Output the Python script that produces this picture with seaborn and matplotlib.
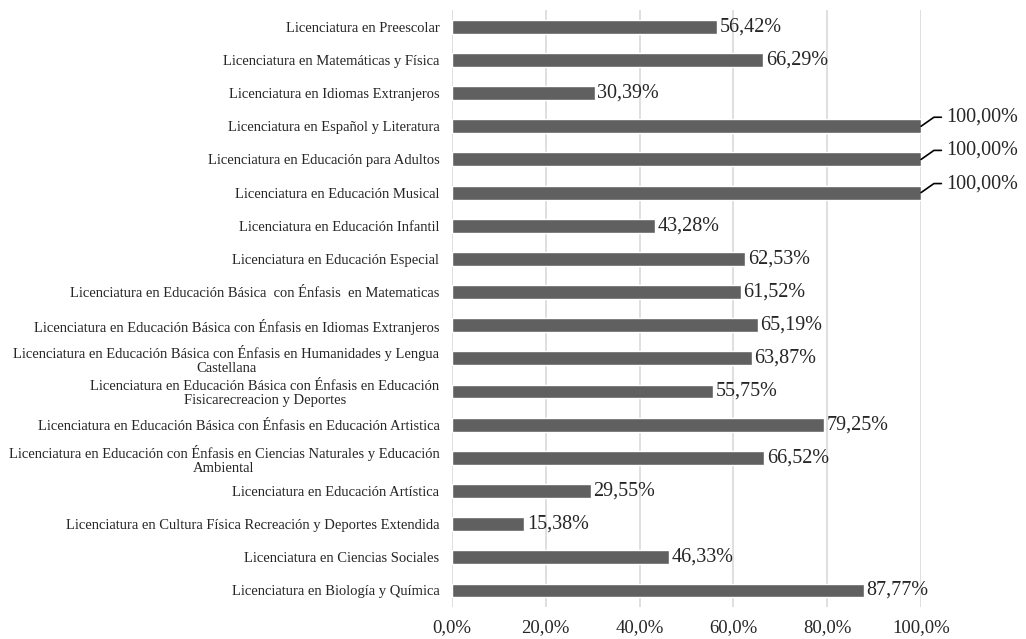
import pandas as pd
import matplotlib.pyplot as plt
import seaborn as sns

programas = [
    'Licenciatura en Preescolar',
    'Licenciatura en Matemáticas y Física',
    'Licenciatura en Idiomas Extranjeros',
    'Licenciatura en Español y Literatura',
    'Licenciatura en Educación para Adultos',
    'Licenciatura en Educación Musical',
    'Licenciatura en Educación Infantil',
    'Licenciatura en Educación Especial',
    'Licenciatura en Educación Básica  con Énfasis  en Matematicas',
    'Licenciatura en Educación Básica con Énfasis en Idiomas Extranjeros',
    'Licenciatura en Educación Básica con Énfasis en Humanidades y Lengua\nCastellana',
    'Licenciatura en Educación Básica con Énfasis en Educación\nFisicarecreacion y Deportes',
    'Licenciatura en Educación Básica con Énfasis en Educación Artistica',
    'Licenciatura en Educación con Énfasis en Ciencias Naturales y Educación\nAmbiental',
    'Licenciatura en Educación Artística',
    'Licenciatura en Cultura Física Recreación y Deportes Extendida',
    'Licenciatura en Ciencias Sociales',
    'Licenciatura en Biología y Química',
]
porcentajes = [56.42, 66.29, 30.39, 100.00, 100.00, 100.00, 43.28, 62.53, 61.52,
               65.19, 63.87, 55.75, 79.25, 66.52, 29.55, 15.38, 46.33, 87.77]
ticks = [0, 20, 40, 60, 80, 100]

df = pd.DataFrame({'programa': programas, 'pct': porcentajes})

sns.set_style('white')
plt.rcParams['font.family'] = ['Liberation Serif', 'DejaVu Serif']

fig = plt.figure(figsize=(10.26, 6.39), dpi=100)
ax = fig.add_axes([0.4405, 0.050, 0.4572, 0.934])

sns.barplot(data=df, y='programa', x='pct', orient='h', color='#606060',
            saturation=1, width=0.42, ax=ax)

ax.set_xlim(0, 100)
ax.set_ylim(len(programas) - 0.5, -0.5)
ax.set_xticks(ticks)
ax.set_xticklabels([f'{t:.1f}%'.replace('.', ',') for t in ticks], fontsize=13.5)
ax.tick_params(axis='x', length=0, pad=9)
ax.tick_params(axis='y', length=0, pad=9, labelsize=10.5)
for lab in ax.get_yticklabels():
    lab.set_multialignment('center')
    lab.set_linespacing(1.1)
ax.set_xlabel('')
ax.set_ylabel('')
ax.grid(axis='x', color='#d9d9d9', linewidth=1.2)
ax.set_axisbelow(True)
for s in ax.spines.values():
    s.set_visible(False)

for i, v in enumerate(porcentajes):
    txt = f'{v:.2f}%'.replace('.', ',')
    if v >= 100:
        ax.annotate(txt, xy=(v, i), xytext=(18, 6.5), textcoords='offset points',
                    ha='left', va='center', fontsize=14.5,
                    arrowprops=dict(arrowstyle='-', color='black', lw=1.2,
                                    shrinkA=1, shrinkB=0,
                                    connectionstyle='angle,angleA=0,angleB=35,rad=0'))
    else:
        ax.annotate(txt, xy=(v, i), xytext=(2, 0), textcoords='offset points',
                    ha='left', va='center', fontsize=14.5)

fig.savefig('out.png', dpi=100)
